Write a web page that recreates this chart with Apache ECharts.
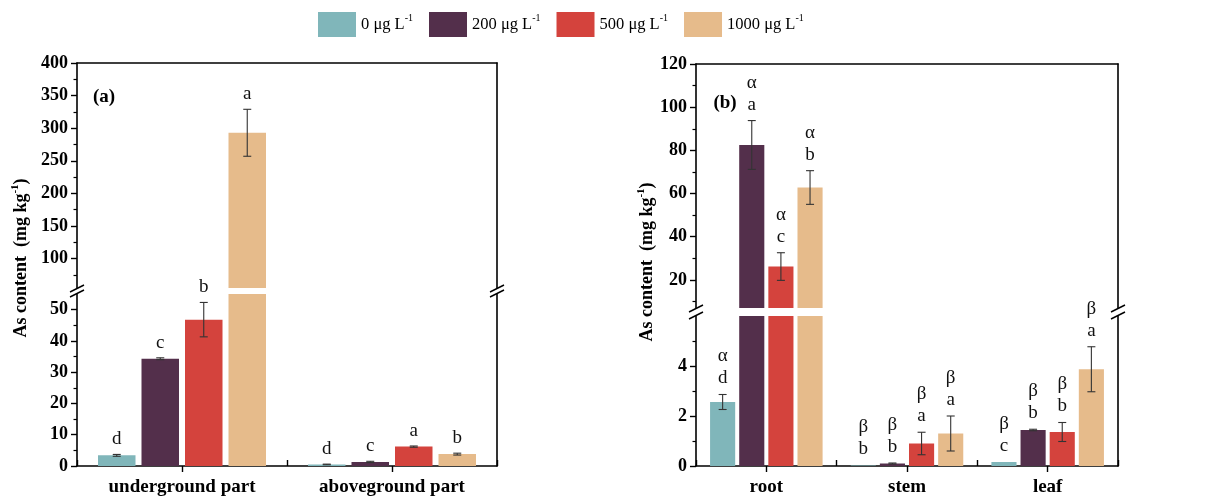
<!DOCTYPE html>
<html>
<head>
<meta charset="utf-8">
<script src="https://cdn.jsdelivr.net/npm/echarts@6/dist/echarts.min.js"></script>
<style>
  html, body { margin: 0; padding: 0; background: #fff; }
  #chart { width: 1215px; height: 503px; }
</style>
</head>
<body>
<div id="chart"></div>
<script>
// legend / treatments
const concNames = ['0 μg L', '200 μg L', '500 μg L', '1000 μg L'];
const concColors = ['#80b6ba', '#532f4b', '#d4433d', '#e6bb8b'];

// (a) plant part, rows = treatment, cols = category
const partCats = ['underground part', 'aboveground part'];
const partMean = [[3.4, 0.5], [34.3, 1.3], [46.8, 6.2], [293, 3.8]];
const partErr = [[0.3, 0.1], [0.3, 0.2], [5.5, 0.2], [36, 0.3]];
const partLetter = [['d', 'd'], ['c', 'c'], ['b', 'a'], ['a', 'b']];
const aLowTicks = [0, 10, 20, 30, 40, 50];
const aLowMinor = [5, 15, 25, 35, 45];
const aUpTicks = [100, 150, 200, 250, 300, 350, 400];
const aUpMinor = [75, 125, 175, 225, 275, 325, 375];

// (b) organ
const organCats = ['root', 'stem', 'leaf'];
const organMean = [[2.56, 0.02, 0.16], [82.5, 0.1, 1.44], [26.2, 0.9, 1.36], [62.8, 1.3, 3.87]];
const organErr = [[0.3, 0, 0], [11.3, 0.02, 0.03], [6.4, 0.45, 0.38], [7.8, 0.7, 0.9]];
const organGreek = [['α', 'β', 'β'], ['α', 'β', 'β'], ['α', 'β', 'β'], ['α', 'β', 'β']];
const organLetter = [['d', 'b', 'c'], ['a', 'b', 'b'], ['c', 'a', 'b'], ['b', 'a', 'a']];
const bLowTicks = [0, 2, 4];
const bLowMinor = [1, 3, 5];
const bUpTicks = [20, 40, 60, 80, 100, 120];
const bUpMinor = [10, 30, 50, 70, 90, 110];

const FONT = "'Liberation Serif', 'Times New Roman', serif";
const AXIS_W = 1.6;

const chart = echarts.init(document.getElementById('chart'));

const grid = [], xAxis = [], yAxis = [], series = [];

function yAxes(gi, min, max, ticks, minor) {
  const base = { type: 'value', gridIndex: gi, min: min, max: max, splitLine: { show: false } };
  const main = yAxis.length;
  yAxis.push(Object.assign({}, base, {
    position: 'left',
    axisLine: { show: true, lineStyle: { color: '#000', width: AXIS_W } },
    axisTick: { show: true, length: 6, customValues: ticks, lineStyle: { color: '#000', width: 1.4 } },
    axisLabel: { show: true, customValues: ticks, margin: 9, color: '#000', fontFamily: FONT, fontWeight: 'bold', fontSize: 18 }
  }));
  yAxis.push(Object.assign({}, base, {
    position: 'left',
    axisLine: { show: false },
    axisTick: { show: true, length: 3.5, customValues: minor, lineStyle: { color: '#000', width: 1.2 } },
    axisLabel: { show: false }
  }));
  yAxis.push(Object.assign({}, base, {
    position: 'right',
    axisLine: { show: true, lineStyle: { color: '#000', width: AXIS_W } },
    axisTick: { show: false },
    axisLabel: { show: false }
  }));
  return main;
}

function errorSeries(xi, yi, mean, err, labelOf, min, max, lineH) {
  const data = [];
  mean.forEach((row, s) => row.forEach((v, c) => {
    if (v > min && v <= max) data.push([c, v, s, err[s][c]]);
  }));
  return {
    type: 'custom', xAxisIndex: xi, yAxisIndex: yi, silent: true, z: 5,
    encode: { x: 0, y: 1 },
    data: data,
    renderItem: function (params, api) {
      const c = api.value(0), v = api.value(1), s = api.value(2), e = api.value(3);
      const band = api.size([1, 0])[0];
      const total = band * 0.8;
      const bw = total / (4 + 3 * 0.16);
      const x = api.coord([c, v])[0] - total / 2 + bw / 2 + s * bw * 1.16;
      const yTop = api.coord([c, v + e])[1];
      const yBot = api.coord([c, v - e])[1];
      const ls = { stroke: '#333', lineWidth: 1.1 };
      const children = [];
      if (e > 0) {
        children.push({ type: 'line', shape: { x1: x, y1: yTop, x2: x, y2: yBot }, style: ls });
        children.push({ type: 'line', shape: { x1: x - 4, y1: yTop, x2: x + 4, y2: yTop }, style: ls });
        children.push({ type: 'line', shape: { x1: x - 4, y1: yBot, x2: x + 4, y2: yBot }, style: ls });
      }
      children.push({
        type: 'text',
        style: {
          text: labelOf(s, c), x: x, y: yTop - 5, align: 'center', verticalAlign: 'bottom',
          fontFamily: FONT, fontSize: 19, lineHeight: lineH, fill: '#111'
        }
      });
      return { type: 'group', children: children };
    }
  };
}

function buildPanel(lay, cats, mean, err, labelOf, lineH) {
  // upper grid
  const gUp = grid.length;
  grid.push({ left: lay.left, width: lay.width, top: lay.up.top, height: lay.up.height });
  const xUp = xAxis.length;
  xAxis.push({
    type: 'category', gridIndex: gUp, data: cats, position: 'top',
    axisLine: { show: true, lineStyle: { color: '#000', width: AXIS_W } },
    axisTick: { show: false }, axisLabel: { show: false }
  });
  const yUp = yAxes(gUp, lay.up.min, lay.up.max, lay.up.ticks, lay.up.minor);

  // lower grid
  const gLow = grid.length;
  grid.push({ left: lay.left, width: lay.width, top: lay.low.top, height: lay.low.height });
  const xLow = xAxis.length;
  xAxis.push({
    type: 'category', gridIndex: gLow, data: cats, position: 'bottom',
    axisLine: { show: true, lineStyle: { color: '#000', width: AXIS_W } },
    axisTick: { show: true, alignWithLabel: true, length: 6, lineStyle: { color: '#000', width: 1.4 } },
    axisLabel: { margin: 12, color: '#000', fontFamily: FONT, fontWeight: 'bold', fontSize: 19 }
  });
  xAxis.push({
    type: 'category', gridIndex: gLow, data: cats, position: 'bottom',
    axisLine: { show: false },
    axisTick: { show: true, inside: true, length: 6, lineStyle: { color: '#000', width: 1.4 } },
    axisLabel: { show: false }
  });
  const yLow = yAxes(gLow, lay.low.min, lay.low.max, lay.low.ticks, lay.low.minor);

  [[xUp, yUp], [xLow, yLow]].forEach(([xi, yi]) => {
    mean.forEach((row, s) => {
      series.push({
        type: 'bar', name: concNames[s], xAxisIndex: xi, yAxisIndex: yi,
        data: row, barGap: '16%', barCategoryGap: '20%', clip: true,
        itemStyle: { color: concColors[s] }, silent: true
      });
    });
  });
  series.push(errorSeries(xUp, yUp, mean, err, labelOf, lay.up.min, lay.up.max, lineH));
  series.push(errorSeries(xLow, yLow, mean, err, labelOf, lay.low.min, lay.low.max, lineH));
}

const layA = {
  left: 77, width: 420,
  up: { top: 63, height: 225, min: 55, max: 400, ticks: aUpTicks, minor: aUpMinor },
  low: { top: 294, height: 172, min: 0, max: 55, ticks: aLowTicks, minor: aLowMinor }
};
const layB = {
  left: 696, width: 422,
  up: { top: 64, height: 244, min: 7, max: 120, ticks: bUpTicks, minor: bUpMinor },
  low: { top: 316, height: 150, min: 0, max: 6, ticks: bLowTicks, minor: bLowMinor }
};

buildPanel(layA, partCats, partMean, partErr, (s, c) => partLetter[s][c], 20);
buildPanel(layB, organCats, organMean, organErr, (s, c) => organGreek[s][c] + '\n' + organLetter[s][c], 22);

// axis break marks "//"
function breakMark(x, yTop, yBot) {
  const ls = { stroke: '#000', lineWidth: 1.5 };
  return {
    type: 'group', silent: true, z: 100,
    children: [
      { type: 'rect', shape: { x: x - 8, y: yTop, width: 16, height: yBot - yTop }, style: { fill: '#fff' } },
      { type: 'line', shape: { x1: x - 7, y1: yTop + 3, x2: x + 7, y2: yTop - 4 }, style: ls },
      { type: 'line', shape: { x1: x - 7, y1: yBot + 4, x2: x + 7, y2: yBot - 3 }, style: ls }
    ]
  };
}

const titleRich = {
  t: { fontFamily: FONT, fontWeight: 'bold', fontSize: 18, fill: '#000', lineHeight: 22 },
  s: { fontFamily: FONT, fontWeight: 'bold', fontSize: 11, fill: '#000', verticalAlign: 'top', lineHeight: 22 }
};

function yTitle(x, y) {
  return {
    type: 'text', x: x, y: y, rotation: Math.PI / 2, silent: true,
    style: { text: '{t|As content  (mg kg}{s|-1}{t|)}', align: 'center', verticalAlign: 'middle', rich: titleRich }
  };
}

function panelLabel(text, x, y) {
  return {
    type: 'text', x: x, y: y, silent: true,
    style: { text: text, align: 'center', verticalAlign: 'middle', fontFamily: FONT, fontWeight: 'bold', fontSize: 19, fill: '#000' }
  };
}

chart.setOption({
  animation: false,
  backgroundColor: '#fff',
  legend: {
    data: concNames, left: 318, top: 12, padding: 0, icon: 'rect', itemWidth: 38, itemHeight: 25, itemGap: 16,
    selectedMode: false,
    formatter: name => '{n|' + name + '}{s|-1}',
    textStyle: {
      color: '#000', fontFamily: FONT, fontSize: 16.5,
      rich: {
        n: { fontFamily: FONT, fontSize: 16.5, color: '#000', lineHeight: 22 },
        s: { fontFamily: FONT, fontSize: 10, color: '#000', verticalAlign: 'top', lineHeight: 22 }
      }
    }
  },
  grid: grid, xAxis: xAxis, yAxis: yAxis, series: series,
  graphic: [
    breakMark(77, 289, 293), breakMark(497, 289, 293),
    breakMark(696, 309, 315), breakMark(1118, 309, 315),
    yTitle(21, 258), yTitle(647, 262),
    panelLabel('(a)', 104, 97), panelLabel('(b)', 725, 103)
  ]
});
</script>
</body>
</html>
